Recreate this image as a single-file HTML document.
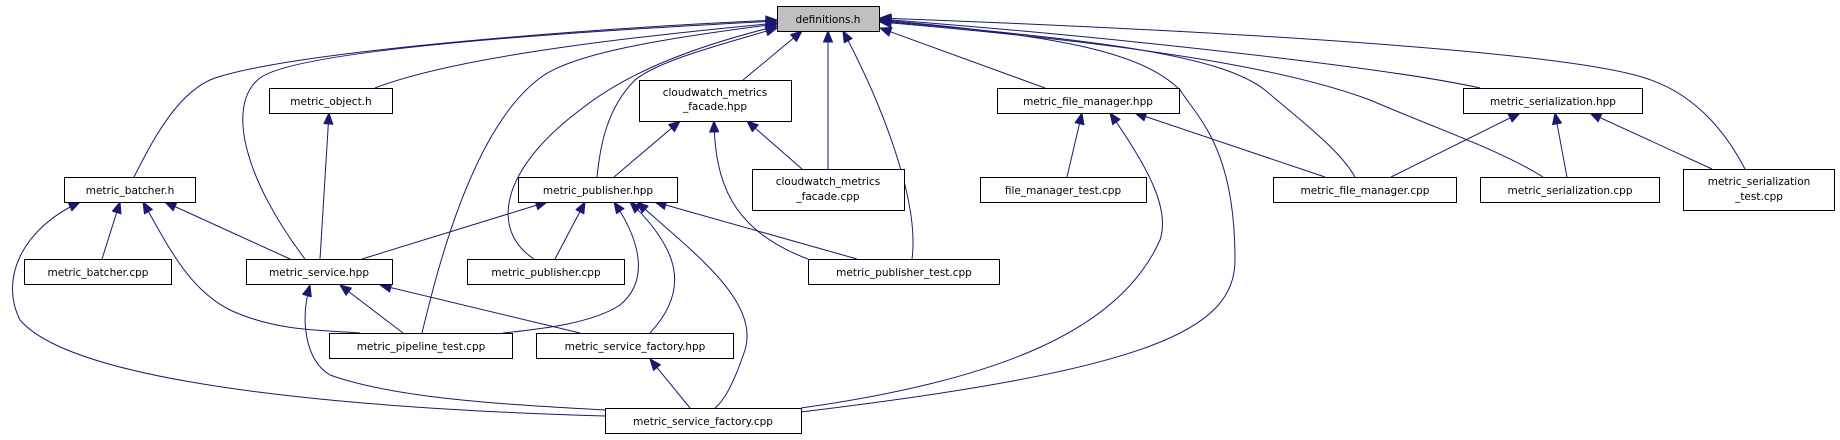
<!DOCTYPE html>
<html><head><meta charset="utf-8"><style>
html,body{margin:0;padding:0;background:#fff;}
svg{display:block;}
text{font-family:"DejaVu Sans","Liberation Sans",sans-serif;font-size:10.5px;fill:#000;text-anchor:middle;}
.n{fill:#fff;stroke:#000;stroke-width:1;}
.e{fill:none;stroke:#191970;stroke-width:1;}
</style></head><body>
<svg width="1840" height="440" viewBox="0 0 1840 440" xmlns="http://www.w3.org/2000/svg">
<defs>
<marker id="a" markerWidth="12" markerHeight="10" refX="0" refY="5" orient="auto" markerUnits="userSpaceOnUse" viewBox="0 0 12 10">
<path d="M0,5 L11,0.5 L11,9.5 Z" fill="#191970" stroke="#191970"/>
</marker>
</defs>
<g class="edges">
<path class="e" marker-start="url(#a)" d="M777,20 C600,28 300,50 215,78 C175,92 148,150 134,177"/>
<path class="e" marker-start="url(#a)" d="M777,21 C600,30 300,48 260,78 C225,105 245,180 305,259"/>
<path class="e" marker-start="url(#a)" d="M777,23 C650,35 460,55 375,88"/>
<path class="e" marker-start="url(#a)" d="M777,24 C650,40 570,55 540,78 C470,130 435,280 422,333"/>
<path class="e" marker-start="url(#a)" d="M777,26 C700,45 630,70 580,110 C500,170 490,230 534,259"/>
<path class="e" marker-start="url(#a)" d="M777,28 C720,45 660,60 635,80 C605,110 600,150 597,177"/>
<path class="e" marker-start="url(#a)" d="M802,31 L743,80"/>
<path class="e" marker-start="url(#a)" d="M828,31 L828,169"/>
<path class="e" marker-start="url(#a)" d="M843,31 C880,100 920,200 912,259"/>
<path class="e" marker-start="url(#a)" d="M880,28 L1045,88"/>
<path class="e" marker-start="url(#a)" d="M880,20 C1050,35 1140,50 1180,90 C1200,120 1235,150 1235,260 C1235,330 1150,370 801,412"/>
<path class="e" marker-start="url(#a)" d="M880,21 C1100,40 1220,55 1265,90 C1300,120 1340,150 1355,177"/>
<path class="e" marker-start="url(#a)" d="M880,22 C1150,45 1290,70 1370,100 C1440,130 1500,150 1543,177"/>
<path class="e" marker-start="url(#a)" d="M880,19 C1150,40 1400,70 1480,88"/>
<path class="e" marker-start="url(#a)" d="M880,18 C1200,30 1560,50 1645,78 C1700,95 1730,140 1745,169"/>
<path class="e" marker-start="url(#a)" d="M329,113 L320,259"/>
<path class="e" marker-start="url(#a)" d="M680,121 L614,177"/>
<path class="e" marker-start="url(#a)" d="M714,121 C715,180 730,230 808,259"/>
<path class="e" marker-start="url(#a)" d="M747,121 L802,169"/>
<path class="e" marker-start="url(#a)" d="M120,202 L102,259"/>
<path class="e" marker-start="url(#a)" d="M165,202 L290,259"/>
<path class="e" marker-start="url(#a)" d="M143,202 C170,250 190,290 230,310 C280,333 330,330 360,333"/>
<path class="e" marker-start="url(#a)" d="M80,202 C20,230 0,280 20,320 C80,390 400,410 605,416"/>
<path class="e" marker-start="url(#a)" d="M547,202 L362,259"/>
<path class="e" marker-start="url(#a)" d="M585,202 L555,259"/>
<path class="e" marker-start="url(#a)" d="M614,202 C640,240 650,280 620,305 C590,325 530,330 503,333"/>
<path class="e" marker-start="url(#a)" d="M630,202 C680,250 690,290 650,333"/>
<path class="e" marker-start="url(#a)" d="M637,202 C690,250 760,300 745,350 C735,380 725,400 715,408"/>
<path class="e" marker-start="url(#a)" d="M655,202 L857,259"/>
<path class="e" marker-start="url(#a)" d="M340,285 L403,333"/>
<path class="e" marker-start="url(#a)" d="M380,285 L580,333"/>
<path class="e" marker-start="url(#a)" d="M310,285 C300,320 305,360 330,375 C400,400 520,405 605,410"/>
<path class="e" marker-start="url(#a)" d="M650,359 L690,408"/>
<path class="e" marker-start="url(#a)" d="M1082,113 L1067,177"/>
<path class="e" marker-start="url(#a)" d="M1135,113 L1325,177"/>
<path class="e" marker-start="url(#a)" d="M1110,113 C1150,170 1170,210 1160,240 C1120,330 1000,380 801,408"/>
<path class="e" marker-start="url(#a)" d="M1520,113 L1391,177"/>
<path class="e" marker-start="url(#a)" d="M1555,113 L1567,177"/>
<path class="e" marker-start="url(#a)" d="M1590,113 L1712,169"/>
</g>
<g>
<rect x="777.5" y="6.5" width="102" height="25" fill="#bfbfbf" stroke="#000"/><text x="828" y="23">definitions.h</text>
<rect class="n" x="269.5" y="88.5" width="123" height="25"/><text x="331" y="105">metric_object.h</text>
<rect class="n" x="639.5" y="80.5" width="152" height="41"/><text x="715" y="96">cloudwatch_metrics</text><text x="715" y="110">_facade.hpp</text>
<rect class="n" x="997.5" y="88.5" width="182" height="25"/><text x="1088" y="105">metric_file_manager.hpp</text>
<rect class="n" x="1463.5" y="88.5" width="179" height="25"/><text x="1553" y="105">metric_serialization.hpp</text>
<rect class="n" x="64.5" y="177.5" width="131" height="25"/><text x="130" y="194">metric_batcher.h</text>
<rect class="n" x="518.5" y="177.5" width="159" height="25"/><text x="598" y="194">metric_publisher.hpp</text>
<rect class="n" x="752.5" y="169.5" width="152" height="41"/><text x="828" y="185">cloudwatch_metrics</text><text x="828" y="200">_facade.cpp</text>
<rect class="n" x="980.5" y="177.5" width="166" height="25"/><text x="1063" y="194">file_manager_test.cpp</text>
<rect class="n" x="1273.5" y="177.5" width="183" height="25"/><text x="1365" y="194">metric_file_manager.cpp</text>
<rect class="n" x="1480.5" y="177.5" width="179" height="25"/><text x="1570" y="194">metric_serialization.cpp</text>
<rect class="n" x="1683.5" y="169.5" width="151" height="41"/><text x="1759" y="185">metric_serialization</text><text x="1759" y="200">_test.cpp</text>
<rect class="n" x="24.5" y="259.5" width="147" height="25"/><text x="98" y="276">metric_batcher.cpp</text>
<rect class="n" x="246.5" y="259.5" width="146" height="25"/><text x="319" y="276">metric_service.hpp</text>
<rect class="n" x="467.5" y="259.5" width="157" height="25"/><text x="546" y="276">metric_publisher.cpp</text>
<rect class="n" x="808.5" y="259.5" width="191" height="25"/><text x="904" y="276">metric_publisher_test.cpp</text>
<rect class="n" x="329.5" y="333.5" width="183" height="25"/><text x="421" y="350">metric_pipeline_test.cpp</text>
<rect class="n" x="536.5" y="333.5" width="197" height="25"/><text x="635" y="350">metric_service_factory.hpp</text>
<rect class="n" x="605.5" y="408.5" width="196" height="25"/><text x="703" y="425">metric_service_factory.cpp</text>
</g>
</svg>
</body></html>
